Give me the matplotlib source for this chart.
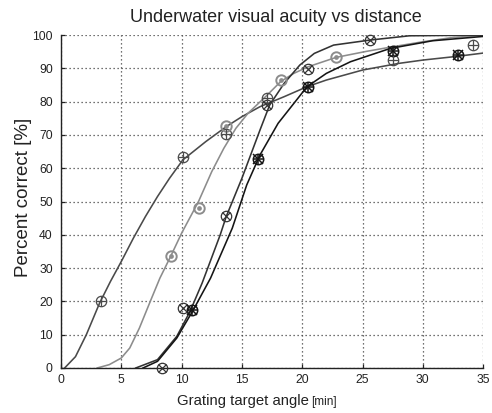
import matplotlib
matplotlib.use("Agg")
import matplotlib.pyplot as plt

plt.rcParams['font.family'] = ['Liberation Sans', 'DejaVu Sans']

# ---- fitted curves ----
curve_a_x = [0.3, 1.2, 2.1, 3.2, 4.1, 5.0, 6.0, 7.0, 8.0, 9.0, 10.1, 12.0, 13.7, 15.0, 16.5, 18.5, 20.4, 22.0, 24.0, 25.0, 28.0, 30.0, 32.8, 35.0]
curve_a_y = [0.0, 3.4, 10.0, 19.5, 26.0, 32.0, 39.0, 45.5, 51.5, 57.0, 62.5, 68.0, 72.5, 75.5, 78.5, 81.5, 84.5, 86.5, 88.5, 89.5, 91.5, 92.5, 93.6, 94.6]

curve_b_x = [3.0, 4.0, 5.0, 5.7, 6.5, 7.4, 8.2, 9.1, 10.0, 11.4, 12.5, 13.5, 14.5, 15.5, 17.1, 18.2, 19.3, 20.5, 22.8, 25.3, 27.5, 30.0, 32.5, 35.0]
curve_b_y = [0.0, 1.0, 3.0, 6.0, 12.0, 20.0, 27.0, 33.6, 40.5, 50.0, 59.0, 66.0, 72.0, 76.5, 82.0, 86.0, 88.5, 90.5, 93.3, 95.1, 96.5, 98.0, 99.3, 99.9]

curve_c_x = [6.2, 8.0, 9.6, 10.7, 11.7, 13.2, 13.7, 15.0, 16.5, 17.3, 18.5, 19.8, 21.0, 22.6, 25.6, 28.9, 35.0]
curve_c_y = [0.0, 2.5, 9.5, 17.0, 25.5, 40.0, 45.5, 57.0, 71.5, 79.0, 85.5, 91.0, 94.5, 97.0, 98.5, 99.8, 100.0]

curve_d_x = [6.8, 8.0, 9.6, 10.9, 12.4, 14.2, 15.4, 16.5, 18.0, 20.4, 22.0, 24.0, 27.3, 30.8, 35.0]
curve_d_y = [0.0, 2.0, 9.0, 17.0, 27.0, 42.0, 55.0, 64.0, 73.5, 84.5, 88.5, 92.0, 96.0, 98.3, 99.6]

# ---- measured points ----
pts_a_x = [3.3, 10.1, 13.7, 17.1, 27.5, 34.2]
pts_a_y = [20.0, 63.4, 70.3, 81.0, 92.4, 96.9]

pts_b_x = [9.1, 11.4, 13.7, 18.2, 22.8]
pts_b_y = [33.6, 48.0, 72.7, 86.5, 93.3]

pts_c_x = [8.4, 10.1, 13.7, 17.1, 20.5, 25.6]
pts_c_y = [0.0, 17.9, 45.7, 79.0, 89.8, 98.5]

pts_d_x = [10.9, 16.3, 20.5, 27.5, 32.9]
pts_d_y = [17.4, 62.9, 84.5, 95.1, 93.9]

x_ticks = [0, 5, 10, 15, 20, 25, 30, 35]
y_ticks = [0, 10, 20, 30, 40, 50, 60, 70, 80, 90, 100]

col_a = '#4a4a4a'
col_b = '#8c8c8c'
col_c = '#333333'
col_d = '#151515'

fig = plt.figure(figsize=(4.92, 4.13), dpi=100)
ax = fig.add_axes([0.124, 0.109, 0.858, 0.806])

ax.set_xlim(0, 35)
ax.set_ylim(0, 100)
ax.set_xticks(x_ticks)
ax.set_yticks(y_ticks)
ax.grid(True, color='#444444', linestyle=(0, (1, 2.2)), linewidth=0.9)
ax.set_axisbelow(True)
for s in ['top', 'right']:
    ax.spines[s].set_visible(False)
for s in ['left', 'bottom']:
    ax.spines[s].set_linewidth(1.0)
    ax.spines[s].set_color('#222222')
ax.tick_params(direction='in', length=3, width=0.9, labelsize=8.7, colors='#222222')
ax.tick_params(axis='y', pad=6)
ax.tick_params(axis='x', pad=4)

lw = 1.15
ax.plot(curve_a_x, curve_a_y, color=col_a, lw=lw)
ax.plot(curve_b_x, curve_b_y, color=col_b, lw=lw)
ax.plot(curve_c_x, curve_c_y, color=col_c, lw=lw)
ax.plot(curve_d_x, curve_d_y, color=col_d, lw=lw)

ms = 7.5
def circ(xs, ys, col, inner, ims, mew=0.9):
    ax.plot(xs, ys, linestyle='none', marker='o', ms=ms, mfc='none', mec=col, mew=mew, clip_on=False, zorder=5)
    for m in inner:
        ax.plot(xs, ys, linestyle='none', marker=m, ms=ims, color=col, mew=mew, clip_on=False, zorder=6)

circ(pts_a_x, pts_a_y, col_a, ['+'], 7.5)
circ(pts_b_x, pts_b_y, col_b, ['.'], 4, mew=1.4)
circ(pts_c_x, pts_c_y, col_c, ['x'], 5.5)
circ(pts_d_x, pts_d_y, col_d, ['+', 'x'], 6.5, mew=1.1)

fig.text(276 / 492, 1 - 22 / 413, 'Underwater visual acuity vs distance', ha='center', va='baseline', fontsize=13, color='#222222')
fig.text(24 / 492, 1 - 197 / 413, 'Percent correct [%]', rotation=90, ha='center', va='center', fontsize=13.5, color='#222222')
fig.text(177 / 492, 1 - 405 / 413, 'Grating target angle', ha='left', va='baseline', fontsize=10.7, color='#222222')
fig.text(311 / 492, 1 - 405 / 413, '[min]', ha='left', va='baseline', fontsize=8.5, color='#222222')

fig.savefig('out.png', dpi=100)
